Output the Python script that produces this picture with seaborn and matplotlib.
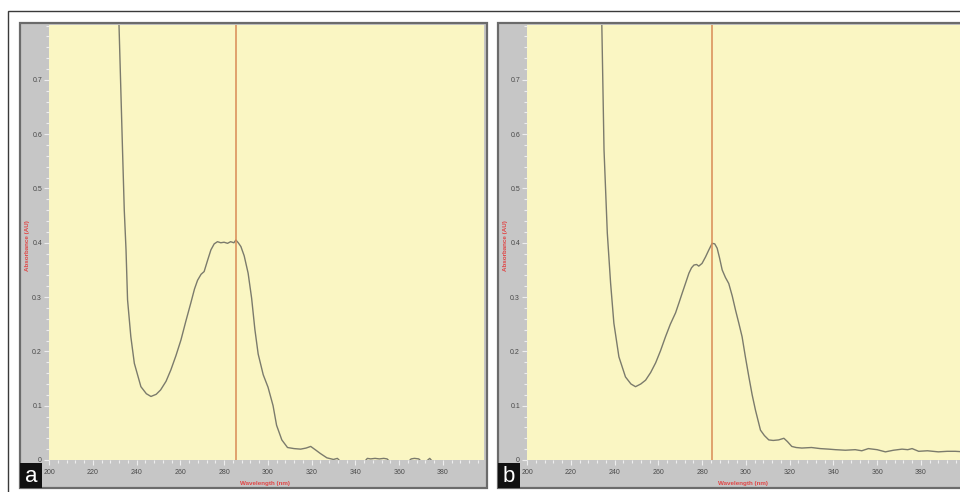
import numpy as np
import pandas as pd
import matplotlib
matplotlib.use("Agg")
import matplotlib.pyplot as plt
from matplotlib.patches import Rectangle
from matplotlib.ticker import MultipleLocator, FixedLocator
import seaborn as sns

# ---------------- data ----------------
wl_a = [231.0, 232.0, 233.6, 234.4, 235.2, 235.9, 237.4, 239.0, 242.0, 244.5,
        246.6, 249.0, 251.0, 253.5, 255.7, 258.0, 260.3, 262.5, 264.8, 266.5,
        267.9, 269.5, 270.9, 272.5, 274.0, 275.5, 277.0, 278.5, 280.0, 281.6,
        283.0, 284.5, 285.4, 286.5, 287.7, 289.2, 291.0, 292.6, 294.1, 295.6,
        297.9, 300.1, 302.4, 304.0, 306.4, 309.0, 312.0, 315.0, 317.5, 319.6,
        322.0, 324.0, 327.0, 330.0, 331.8, 333.5, 340.0, 344.0, 345.5, 347.0,
        349.0, 351.0, 353.0, 354.5, 356.0, 360.0, 364.0, 365.5, 367.0, 369.0,
        370.5, 372.0, 374.0, 375.5, 380.0, 390.0, 400.0]
abs_a = [0.86, 0.80, 0.571, 0.46, 0.387, 0.295, 0.227, 0.178, 0.135, 0.122,
         0.117, 0.121, 0.129, 0.145, 0.166, 0.192, 0.221, 0.255, 0.289, 0.315,
         0.331, 0.342, 0.347, 0.368, 0.387, 0.398, 0.402, 0.400, 0.401, 0.399,
         0.402, 0.400, 0.405, 0.400, 0.393, 0.376, 0.344, 0.298, 0.240, 0.195,
         0.157, 0.134, 0.100, 0.064, 0.037, 0.023, 0.021, 0.020, 0.022, 0.025,
         0.018, 0.012, 0.004, 0.001, 0.003, -0.004, -0.005, -0.004, 0.003, 0.002,
         0.003, 0.002, 0.003, 0.002, -0.004, -0.005, -0.004, 0.002, 0.003, 0.002,
         -0.004, -0.004, 0.003, -0.004, -0.006, -0.006, -0.006]

wl_b = [233.5, 234.2, 235.2, 236.7, 238.2, 239.7, 242.0, 245.0, 247.5, 249.6,
        252.0, 254.2, 256.5, 258.8, 261.0, 263.3, 265.5, 267.9, 269.5, 270.9,
        272.5, 274.0, 275.2, 276.3, 277.5, 278.5, 280.0, 281.6, 283.0, 284.6,
        285.8, 286.9, 288.0, 289.2, 290.7, 292.2, 293.8, 295.3, 296.8, 298.3,
        299.8, 301.4, 302.9, 304.4, 306.7, 308.5, 310.5, 312.5, 315.0, 317.4,
        319.0, 321.0, 323.0, 325.6, 330.0, 334.0, 337.9, 341.0, 345.5, 350.0,
        353.0, 356.0, 360.0, 363.8, 367.5, 371.4, 374.0, 376.0, 379.0, 383.0,
        388.0, 392.0, 395.7, 400.0]
abs_b = [0.86, 0.80, 0.571, 0.418, 0.326, 0.252, 0.190, 0.153, 0.140, 0.135,
         0.140, 0.147, 0.161, 0.179, 0.201, 0.227, 0.250, 0.271, 0.290, 0.307,
         0.326, 0.344, 0.354, 0.359, 0.360, 0.357, 0.362, 0.374, 0.386, 0.399,
         0.398, 0.390, 0.372, 0.350, 0.336, 0.325, 0.302, 0.276, 0.252, 0.227,
         0.190, 0.153, 0.120, 0.092, 0.055, 0.045, 0.037, 0.036, 0.037, 0.040,
         0.034, 0.025, 0.023, 0.022, 0.023, 0.021, 0.020, 0.019, 0.018, 0.019,
         0.017, 0.021, 0.019, 0.015, 0.018, 0.020, 0.019, 0.021, 0.016, 0.017,
         0.015, 0.016, 0.016, 0.015]

marker_wl_a = 285.4
marker_wl_b = 284.6

x_ticks = [200, 220, 240, 260, 280, 300, 320, 340, 360, 380]
y_ticks = [0, 0.1, 0.2, 0.3, 0.4, 0.5, 0.6, 0.7]
y_tick_labels = ["0", "0.1", "0.2", "0.3", "0.4", "0.5", "0.6", "0.7"]
panel_labels = ["a", "b"]
x_title = "Wavelength (nm)"
y_title = "Absorbance (AU)"

# ---------------- styling ----------------
sns.set_style("white")
plt.rcParams["font.family"] = ["Liberation Sans", "DejaVu Sans"]

W, H = 960, 492
fig = plt.figure(figsize=(9.6, 4.92), dpi=100)
fig.patch.set_facecolor("white")

def fx(px):
    return px / W

def fy(py):
    return 1 - py / H

# outer thin border of the composite image
fig.add_artist(Rectangle((fx(8), -0.02), 1.05, fy(11) + 0.02,
                         transform=fig.transFigure, fill=False,
                         edgecolor="#3a3a3a", linewidth=1.0, zorder=0))

YELLOW = "#faf6c3"
GRAY = "#c6c6c6"
CURVE = "#7b7b6c"
MARK = "#d98a55"
RED = "#e04545"

panels = [
    (0, pd.DataFrame({"wavelength": wl_a, "absorbance": abs_a}), marker_wl_a),
    (478, pd.DataFrame({"wavelength": wl_b, "absorbance": abs_b}), marker_wl_b),
]

for (dx, df, mwl), lab in zip(panels, panel_labels):
    # gray instrument frame
    fig.add_artist(Rectangle((fx(20 + dx), fy(488)), fx(467), (488 - 23) / H,
                             transform=fig.transFigure, facecolor=GRAY,
                             edgecolor="#6b6b6b", linewidth=1.6, zorder=1))
    ax = fig.add_axes([fx(49 + dx), fy(460), fx(435), (460 - 25) / H])
    ax.set_zorder(2)
    ax.set_facecolor(YELLOW)
    sns.lineplot(data=df, x="wavelength", y="absorbance", ax=ax,
                 color=CURVE, linewidth=1.0, sort=False, estimator=None)
    ax.axvline(mwl, color=MARK, linewidth=1.1, zorder=3)
    ax.set_xlim(200, 398.8)
    ax.set_ylim(0, 0.801)
    for s in ax.spines.values():
        s.set_visible(False)
    ax.set_xlabel("")
    ax.set_ylabel("")
    ax.xaxis.set_major_locator(FixedLocator(x_ticks))
    ax.set_xticklabels([str(t) for t in x_ticks])
    ax.xaxis.set_minor_locator(MultipleLocator(4))
    ax.yaxis.set_major_locator(FixedLocator(y_ticks))
    ax.set_yticklabels(y_tick_labels)
    ax.yaxis.set_minor_locator(MultipleLocator(0.02))
    ax.tick_params(axis="both", which="major", labelsize=5, colors="#eeeeee",
                   labelcolor="#4a4a4a", length=3.5, width=0.8, pad=1.5,
                   left=True, bottom=True)
    ax.tick_params(axis="both", which="minor", colors="#eeeeee",
                   length=2.5, width=0.8, left=True, bottom=True)
    ax.tick_params(axis="x", which="major", pad=3)
    ax.text(0.4966, -0.053, x_title, transform=ax.transAxes, ha="center",
            va="center", fontsize=4.5, color=RED, fontweight="bold")
    ax.text(-0.05, 0.494, y_title, transform=ax.transAxes, ha="center",
            va="center", fontsize=4.5, color=RED, fontweight="bold",
            rotation=90)
    # panel letter
    fig.add_artist(Rectangle((fx(20 + dx), fy(488)), fx(22), 25 / H,
                             transform=fig.transFigure, facecolor="#111111",
                             edgecolor="none", zorder=5))
    fig.text(fx(31 + dx), fy(476), lab, ha="center", va="center",
             fontsize=16, color="white", zorder=6)

fig.savefig("out.png", dpi=100, facecolor="white")
